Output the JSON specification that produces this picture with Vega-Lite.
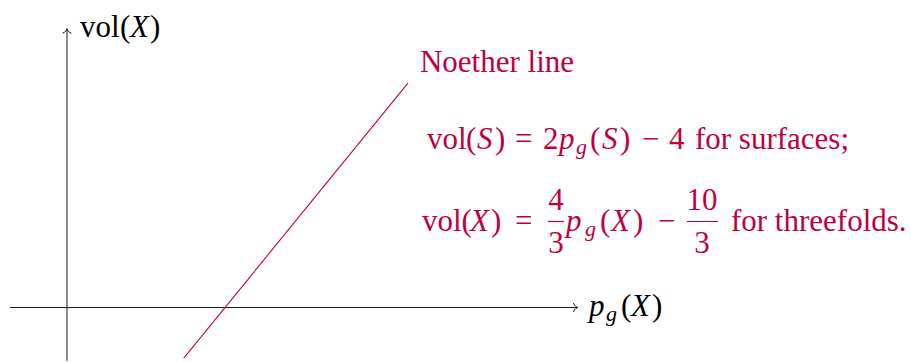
{
  "$schema": "https://vega.github.io/schema/vega-lite/v6.json",
  "width": 911,
  "height": 362,
  "padding": 0,
  "autosize": {"type": "fit", "contains": "padding"},
  "config": {
    "view": {"stroke": null},
    "font": "Liberation Serif",
    "text": {"font": "Liberation Serif", "fontSize": 31, "align": "left", "baseline": "alphabetic"}
  },
  "encoding": {
    "x": {"field": "x", "type": "quantitative", "scale": {"domain": [-0.848, 10.684], "nice": false, "zero": false}, "axis": null},
    "y": {"field": "y", "type": "quantitative", "scale": {"domain": [-1.041, 6.347], "nice": false, "zero": false}, "axis": null}
  },
  "layer": [
    {
      "data": {"values": [
        {"x": -0.722, "y": 0, "x2": 6.468, "y2": 0},
        {"x": 0, "y": -1.1, "x2": 0, "y2": 5.755}
      ]},
      "mark": {"type": "rule", "color": "#1a1a1a", "strokeWidth": 1},
      "encoding": {"x2": {"field": "x2"}, "y2": {"field": "y2"}}
    },
    {
      "data": {"values": [{"x": 6.468, "y": 0}]},
      "mark": {"type": "point", "shape": "M-1,-1 C-0.75,-0.25 -0.25,-0.05 0,0 C-0.25,0.05 -0.75,0.25 -1,1", "size": 81, "filled": false, "stroke": "#1a1a1a", "strokeWidth": 1, "opacity": 1, "angle": 0}
    },
    {
      "data": {"values": [{"x": 0, "y": 5.755}]},
      "mark": {"type": "point", "shape": "M-1,-1 C-0.75,-0.25 -0.25,-0.05 0,0 C-0.25,0.05 -0.75,0.25 -1,1", "size": 81, "filled": false, "stroke": "#1a1a1a", "strokeWidth": 1, "opacity": 1, "angle": 270}
    },
    {
      "data": {"values": [{"x": 1.3, "y": -1.4}, {"x": 4.316, "y": 4.632}]},
      "mark": {"type": "line", "color": "#BF0040", "strokeWidth": 1.1, "clip": true}
    },
    {
      "data": {"values": [
        {"x": 6.089, "x2": 6.291, "y": 1.776},
        {"x": 7.848, "x2": 8.241, "y": 1.776}
      ]},
      "mark": {"type": "rule", "color": "#BF0040", "strokeWidth": 1.2},
      "encoding": {"x2": {"field": "x2"}}
    },
    {
      "data": {"values": [
        {"x": 0.165, "y": 5.592, "t": "vol"},
        {"x": 0.671, "y": 5.592, "t": "("},
        {"x": 1.051, "y": 5.592, "t": ")"},
        {"x": 7.013, "y": -0.184, "t": "("},
        {"x": 7.405, "y": -0.184, "t": ")"}
      ]},
      "mark": {"type": "text", "font": "Liberation Serif", "color": "#000000"},
      "encoding": {"text": {"field": "t"}}
    },
    {
      "data": {"values": [
        {"x": 0.797, "y": 5.592, "t": "X"},
        {"x": 6.608, "y": -0.184, "t": "p"},
        {"x": 7.139, "y": -0.184, "t": "X"}
      ]},
      "mark": {"type": "text", "font": "Liberation Serif", "color": "#000000", "fontStyle": "italic"},
      "encoding": {"text": {"field": "t"}}
    },
    {
      "data": {"values": [{"x": 6.823, "y": -0.286, "t": "g"}]},
      "mark": {"type": "text", "font": "Liberation Serif", "color": "#000000", "fontStyle": "italic", "fontSize": 22},
      "encoding": {"text": {"field": "t"}}
    },
    {
      "data": {"values": [
        {"x": 4.468, "y": 4.857, "t": "Noether line"},
        {"x": 4.557, "y": 3.265, "t": "vol"},
        {"x": 5.051, "y": 3.265, "t": "("},
        {"x": 5.418, "y": 3.265, "t": ")"},
        {"x": 5.671, "y": 3.265, "t": "="},
        {"x": 6.025, "y": 3.265, "t": "2"},
        {"x": 6.620, "y": 3.265, "t": "("},
        {"x": 7.000, "y": 3.265, "t": ")"},
        {"x": 7.278, "y": 3.265, "t": "−"},
        {"x": 7.620, "y": 3.265, "t": "4"},
        {"x": 7.949, "y": 3.265, "t": "for surfaces;"},
        {"x": 4.494, "y": 1.571, "t": "vol"},
        {"x": 4.994, "y": 1.571, "t": "("},
        {"x": 5.367, "y": 1.571, "t": ")"},
        {"x": 5.671, "y": 1.571, "t": "="},
        {"x": 6.747, "y": 1.571, "t": "("},
        {"x": 7.165, "y": 1.571, "t": ")"},
        {"x": 7.481, "y": 1.571, "t": "−"},
        {"x": 8.405, "y": 1.571, "t": "for threefolds."}
      ]},
      "mark": {"type": "text", "font": "Liberation Serif", "color": "#BF0040"},
      "encoding": {"text": {"field": "t"}}
    },
    {
      "data": {"values": [
        {"x": 5.190, "y": 3.265, "t": "S"},
        {"x": 6.228, "y": 3.265, "t": "p"},
        {"x": 6.772, "y": 3.265, "t": "S"},
        {"x": 5.101, "y": 1.571, "t": "X"},
        {"x": 6.316, "y": 1.571, "t": "p"},
        {"x": 6.886, "y": 1.571, "t": "X"}
      ]},
      "mark": {"type": "text", "font": "Liberation Serif", "color": "#BF0040", "fontStyle": "italic"},
      "encoding": {"text": {"field": "t"}}
    },
    {
      "data": {"values": [
        {"x": 6.443, "y": 3.163, "t": "g"},
        {"x": 6.557, "y": 1.469, "t": "g"}
      ]},
      "mark": {"type": "text", "font": "Liberation Serif", "color": "#BF0040", "fontStyle": "italic", "fontSize": 22},
      "encoding": {"text": {"field": "t"}}
    },
    {
      "data": {"values": [
        {"x": 6.190, "y": 2.020, "t": "4"},
        {"x": 6.190, "y": 1.122, "t": "3"},
        {"x": 8.038, "y": 2.020, "t": "10"},
        {"x": 8.038, "y": 1.122, "t": "3"}
      ]},
      "mark": {"type": "text", "font": "Liberation Serif", "color": "#BF0040", "align": "center"},
      "encoding": {"text": {"field": "t"}}
    }
  ]
}
